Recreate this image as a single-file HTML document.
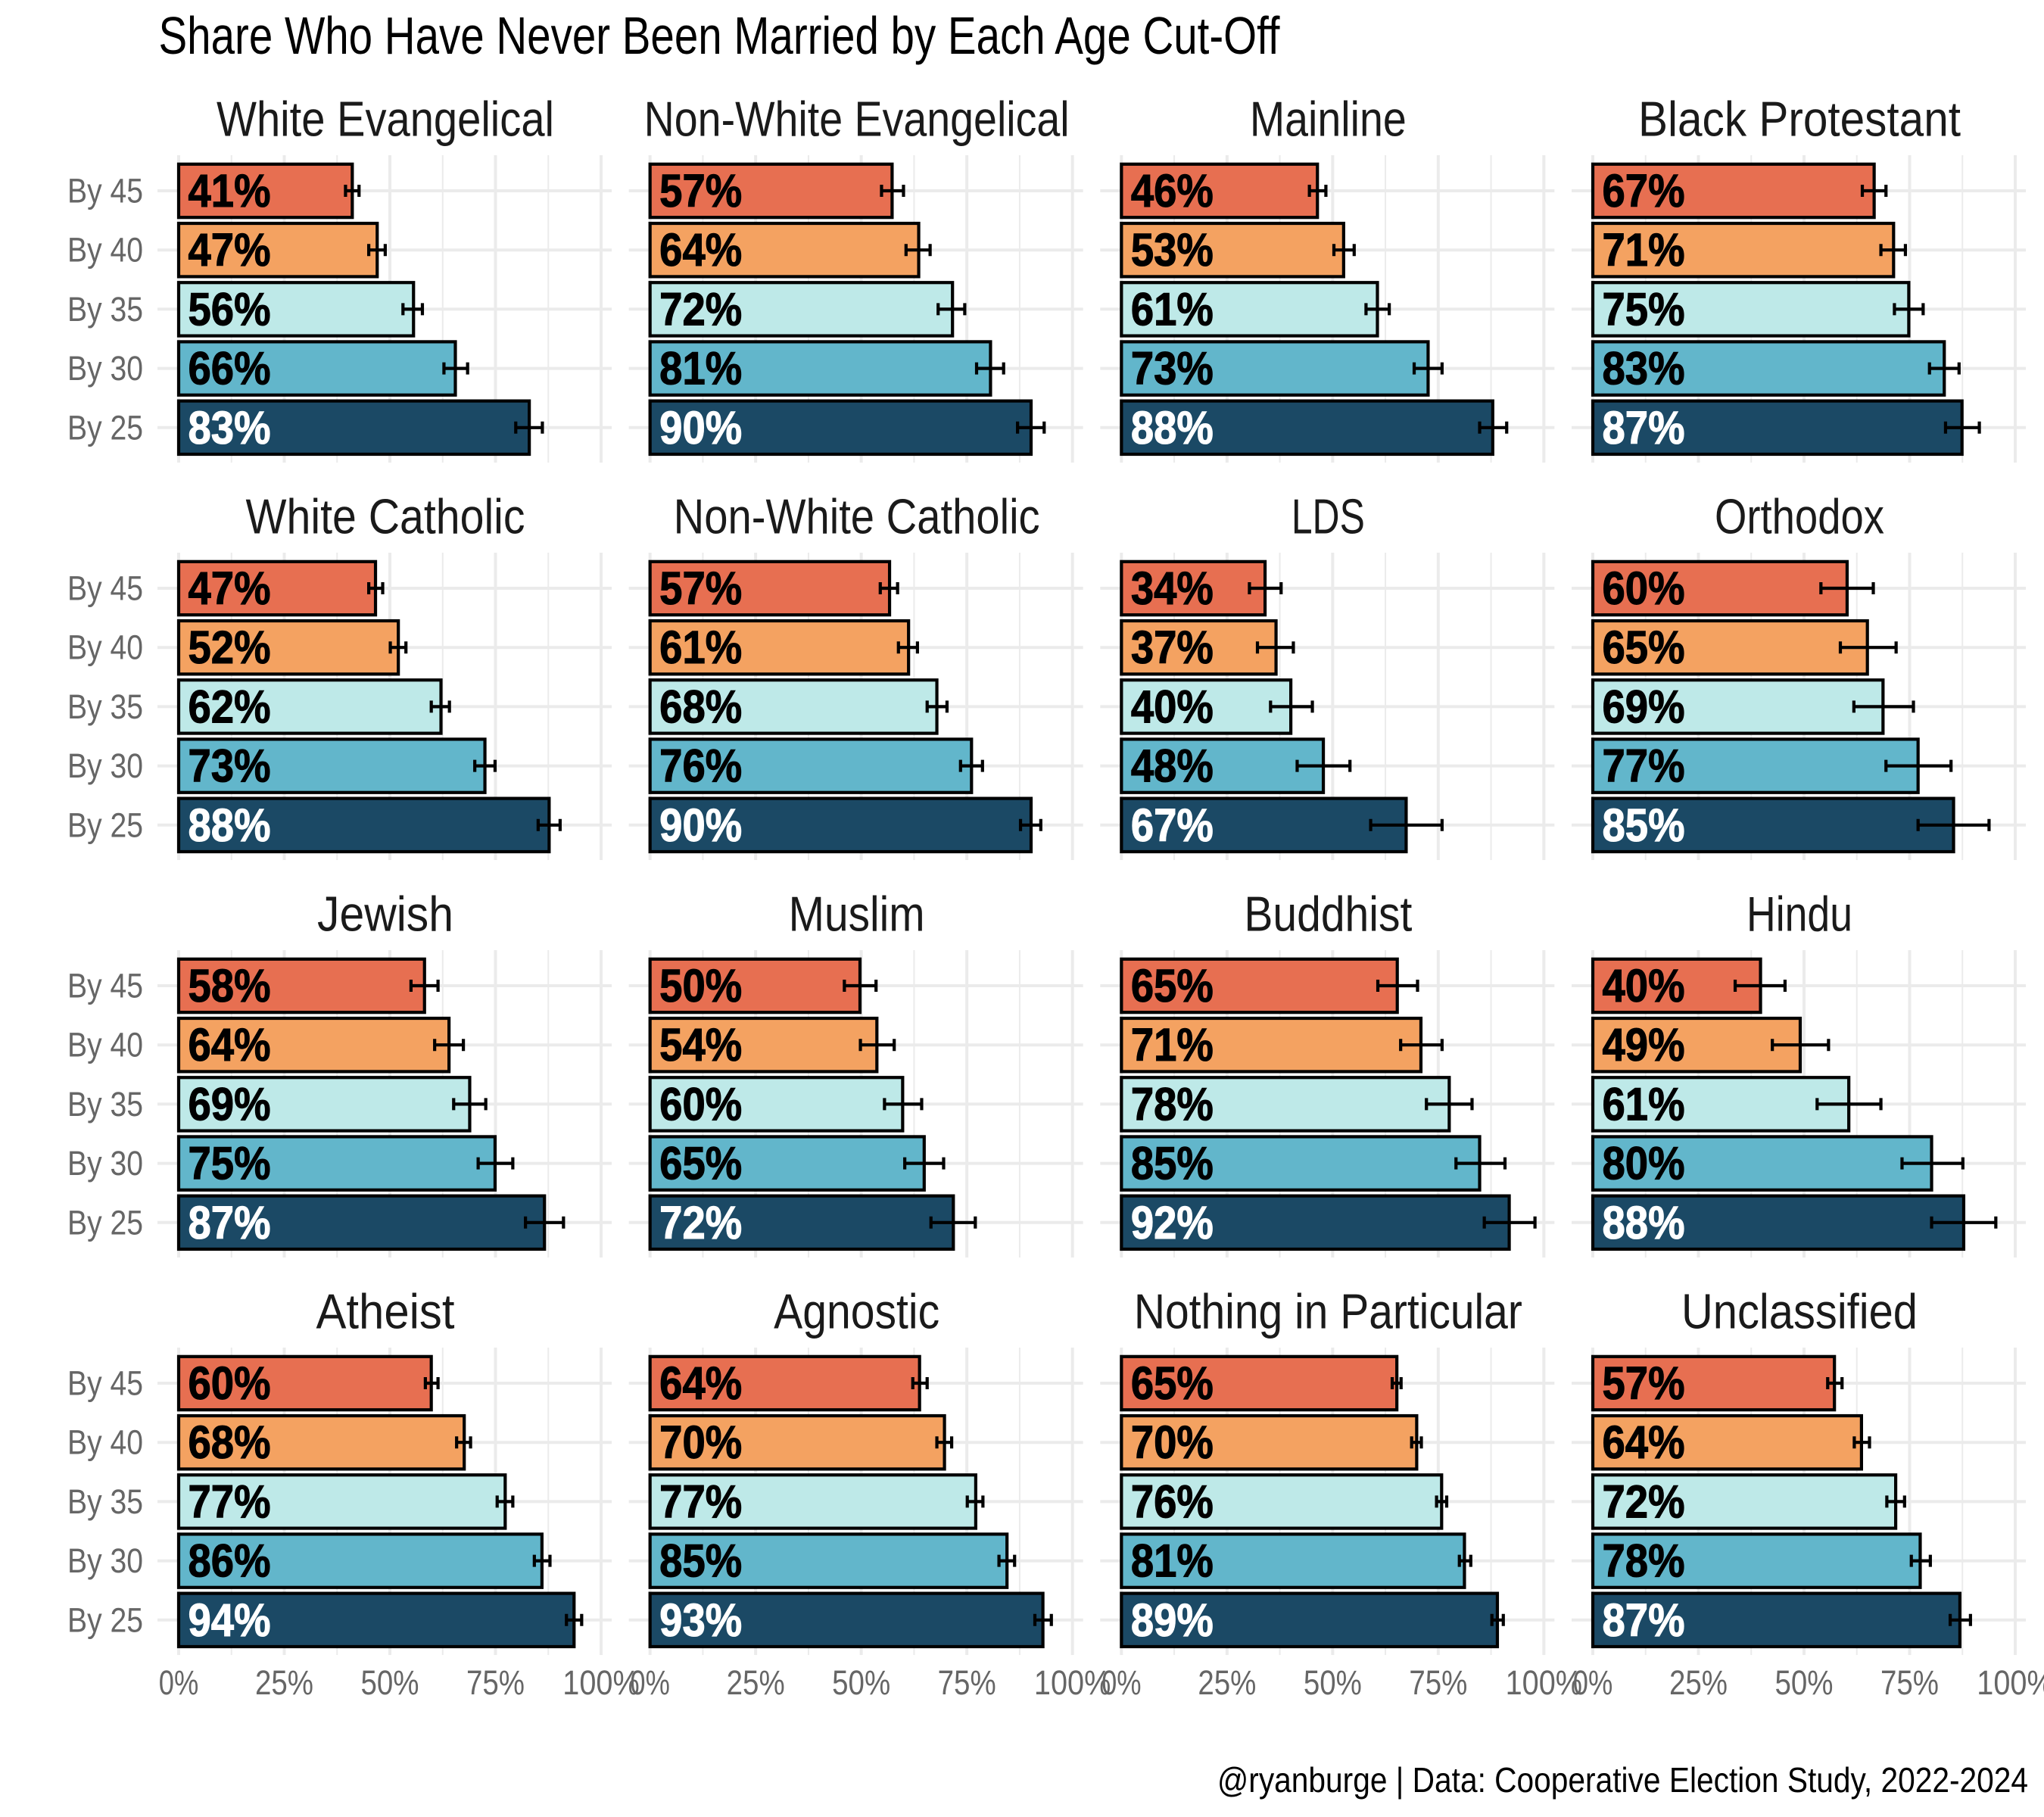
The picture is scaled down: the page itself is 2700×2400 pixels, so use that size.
<!DOCTYPE html>
<html lang="en">
<head>
<meta charset="utf-8">
<title>Share Who Have Never Been Married by Each Age Cut-Off</title>
<style>
html,body{margin:0;padding:0;background:#fff;width:2700px;height:2400px;overflow:hidden}
svg{display:block}
text{font-family:"Liberation Sans",sans-serif}
</style>
</head>
<body>
<svg id="chart" xmlns="http://www.w3.org/2000/svg" width="2700" height="2400" viewBox="0 0 2700 2400">
  <rect width="2700" height="2400" fill="#ffffff"/>
  <text x="209.5" y="71" font-size="70" fill="#000000" textLength="1481" lengthAdjust="spacingAndGlyphs">Share Who Have Never Been Married by Each Age Cut-Off</text>
  <text x="2679" y="2367" text-anchor="end" font-size="46" fill="#000000" textLength="1071" lengthAdjust="spacingAndGlyphs">@ryanburge | Data: Cooperative Election Study, 2022-2024</text>
</svg>
<script>
const panelNames = ['White Evangelical','Non-White Evangelical','Mainline','Black Protestant','White Catholic','Non-White Catholic','LDS','Orthodox','Jewish','Muslim','Buddhist','Hindu','Atheist','Agnostic','Nothing in Particular','Unclassified'];
const ageCategories = ['By 45','By 40','By 35','By 30','By 25'];
const xTickLabels = ['0%','25%','50%','75%','100%'];
const xTickValues = [0,25,50,75,100];
const xMinorTickValues = [12.5,37.5,62.5,87.5];

const shareWhiteEvangelical = [41.1,47.0,55.6,65.5,83.0];
const lowWhiteEvangelical = [39.5,45.0,53.1,62.8,79.8];
const highWhiteEvangelical = [42.7,48.9,57.7,68.4,86.1];
const shareNonWhiteEvangelical = [57.3,63.6,71.6,80.6,90.2];
const lowNonWhiteEvangelical = [54.8,60.6,68.2,77.3,87.0];
const highNonWhiteEvangelical = [60.0,66.3,74.5,83.7,93.3];
const shareMainline = [46.4,52.6,60.6,72.6,87.9];
const lowMainline = [44.5,50.3,57.9,69.3,84.8];
const highMainline = [48.4,55.1,63.4,75.9,91.2];
const shareBlackProtestant = [66.6,71.2,74.8,83.2,87.4];
const lowBlackProtestant = [63.8,68.2,71.4,79.7,83.5];
const highBlackProtestant = [69.4,74.0,78.2,86.7,91.5];
const shareWhiteCatholic = [46.6,52.0,62.1,72.5,87.7];
const lowWhiteCatholic = [45.0,50.1,59.8,70.1,85.1];
const highWhiteCatholic = [48.3,53.8,64.1,74.9,90.3];
const shareNonWhiteCatholic = [56.7,61.2,67.9,76.1,90.2];
const lowNonWhiteCatholic = [54.5,58.8,65.6,73.5,87.7];
const highNonWhiteCatholic = [58.6,63.3,70.3,78.7,92.5];
const shareLds = [34.0,36.6,40.1,47.8,67.4];
const lowLds = [30.3,32.2,35.3,41.6,59.0];
const highLds = [37.8,40.7,45.2,54.1,75.9];
const shareOrthodox = [60.2,65.0,68.7,77.0,85.4];
const lowOrthodox = [54.0,58.6,61.8,69.4,77.0];
const highOrthodox = [66.4,71.8,75.9,84.8,93.8];
const shareJewish = [58.2,64.0,68.9,74.9,86.6];
const lowJewish = [55.0,60.6,65.1,70.9,82.1];
const highJewish = [61.4,67.4,72.7,79.1,91.1];
const shareMuslim = [49.7,53.7,59.8,64.9,71.8];
const lowMuslim = [46.0,49.8,55.5,60.3,66.5];
const highMuslim = [53.5,57.8,64.3,69.5,77.0];
const shareBuddhist = [65.3,70.9,77.6,84.8,91.8];
const lowBuddhist = [60.7,66.1,72.2,79.2,85.9];
const highBuddhist = [70.1,75.9,83.0,90.8,97.9];
const shareHindu = [39.7,49.1,60.6,80.2,87.8];
const lowHindu = [33.7,42.5,53.1,73.2,80.2];
const highHindu = [45.5,55.8,68.2,87.6,95.4];
const shareAtheist = [59.8,67.6,77.3,86.0,93.6];
const lowAtheist = [58.4,65.8,75.4,84.2,91.8];
const highAtheist = [61.4,69.1,79.1,87.9,95.4];
const shareAgnostic = [63.8,69.7,77.1,84.5,93.0];
const lowAgnostic = [62.2,67.9,75.1,82.6,91.1];
const highAgnostic = [65.6,71.4,78.8,86.3,95.0];
const shareNothing = [65.2,69.9,75.8,81.2,89.0];
const lowNothing = [64.1,68.7,74.6,80.0,87.7];
const highNothing = [66.2,71.0,77.0,82.7,90.4];
const shareUnclassified = [57.2,63.6,71.7,77.5,86.9];
const lowUnclassified = [55.6,61.9,69.6,75.4,84.6];
const highUnclassified = [59.0,65.5,73.8,79.9,89.4];

const allShares = [shareWhiteEvangelical,shareNonWhiteEvangelical,shareMainline,shareBlackProtestant,shareWhiteCatholic,shareNonWhiteCatholic,shareLds,shareOrthodox,shareJewish,shareMuslim,shareBuddhist,shareHindu,shareAtheist,shareAgnostic,shareNothing,shareUnclassified];
const allLows = [lowWhiteEvangelical,lowNonWhiteEvangelical,lowMainline,lowBlackProtestant,lowWhiteCatholic,lowNonWhiteCatholic,lowLds,lowOrthodox,lowJewish,lowMuslim,lowBuddhist,lowHindu,lowAtheist,lowAgnostic,lowNothing,lowUnclassified];
const allHighs = [highWhiteEvangelical,highNonWhiteEvangelical,highMainline,highBlackProtestant,highWhiteCatholic,highNonWhiteCatholic,highLds,highOrthodox,highJewish,highMuslim,highBuddhist,highHindu,highAtheist,highAgnostic,highNothing,highUnclassified];

/* layout constants */
const stripTitleFit = {'White Evangelical':446,'Non-White Evangelical':562,'Mainline':207,'Black Protestant':426,'White Catholic':369,'Non-White Catholic':484,'LDS':97,'Orthodox':224,'Jewish':180,'Muslim':180,'Buddhist':222,'Hindu':140,'Atheist':183,'Agnostic':219,'Nothing in Particular':513,'Unclassified':312};
const barFills = ['#E76F51','#F4A261','#BEE9E8','#62B6CB','#1B4965'];
const labelFills = ['#000000','#000000','#000000','#000000','#ffffff'];
const PX_PER_PCT = 5.58, COL_STEP = 622.67, ROW_STEP = 525, BAND = 78.2;
const X0 = 236, TOP = 205, PANEL_H = 406, LEFT_PAD = 28, PANEL_W = 600;

const svg = document.getElementById('chart');
const NS = 'http://www.w3.org/2000/svg';
function make(tag, attrs, parent, text) {
  const el = document.createElementNS(NS, tag);
  for (const k in attrs) el.setAttribute(k, attrs[k]);
  if (text !== undefined) el.textContent = text;
  parent.appendChild(el);
  return el;
}
function xScale(col, v) { return X0 + col * COL_STEP + v * PX_PER_PCT; }
function yScale(row, i) { return TOP + row * ROW_STEP + 47 + i * BAND; }

panelNames.forEach(function (name, p) {
  const col = p % 4, row = Math.floor(p / 4);
  const slug = name.toLowerCase().replace(/[^a-z]+/g, '-');
  const left = xScale(col, 0) - LEFT_PAD, top = TOP + row * ROW_STEP;

  const g = make('g', {}, svg);
  
  

  const strip = make('text', {x: xScale(col, 0) + 273, y: top - 25.5, 'text-anchor': 'middle', 'font-size': 65, fill: '#1a1a1a', textLength: stripTitleFit[name], lengthAdjust: 'spacingAndGlyphs'}, g, name);
  
  

  xMinorTickValues.forEach(function (v) {
    const l = make('line', {x1: xScale(col, v), x2: xScale(col, v), y1: top, y2: top + PANEL_H, stroke: '#EBEBEB', 'stroke-width': 2}, g);
    
    
  });
  xTickValues.forEach(function (v) {
    const l = make('line', {x1: xScale(col, v), x2: xScale(col, v), y1: top, y2: top + PANEL_H, stroke: '#EBEBEB', 'stroke-width': 4}, g);
    
    
  });
  ageCategories.forEach(function (c, i) {
    const l = make('line', {x1: left, x2: left + PANEL_W, y1: yScale(row, i), y2: yScale(row, i), stroke: '#EBEBEB', 'stroke-width': 4}, g);
    
    
  });

  ageCategories.forEach(function (c, i) {
    const y = yScale(row, i), v = allShares[p][i];
    const bar = make('rect', {x: xScale(col, 0), y: y - BAND * 0.45, width: v * PX_PER_PCT, height: BAND * 0.9, fill: barFills[i], stroke: '#000000', 'stroke-width': 4.2}, g);
    
    
  });

  ageCategories.forEach(function (c, i) {
    const y = yScale(row, i), lo = xScale(col, allLows[p][i]), hi = xScale(col, allHighs[p][i]);
    const eb = make('path', {d: 'M' + lo + ' ' + (y - 8) + 'V' + (y + 8) + 'M' + lo + ' ' + y + 'H' + hi + 'M' + hi + ' ' + (y - 8) + 'V' + (y + 8), fill: 'none', stroke: '#000000', 'stroke-width': 4.2}, g);
    
    
  });

  ageCategories.forEach(function (c, i) {
    const y = yScale(row, i), v = allShares[p][i];
    const t = make('text', {x: xScale(col, 0) + 12.5, y: y + 21, 'font-size': 61, 'font-weight': 700, fill: labelFills[i], stroke: labelFills[i], 'stroke-width': 1.1, textLength: 109, lengthAdjust: 'spacingAndGlyphs'}, g, Math.round(v) + '%');
    
    
  });

  if (col === 0) {
    ageCategories.forEach(function (c, i) {
      const t = make('text', {x: 189, y: yScale(row, i) + 15.5, 'text-anchor': 'end', 'font-size': 45, fill: '#666666', textLength: 100, lengthAdjust: 'spacingAndGlyphs'}, g, c);
      
      
    });
  }
  if (row === 3) {
    xTickValues.forEach(function (v, k) {
      const label = xTickLabels[k];
      const t = make('text', {x: xScale(col, v), y: top + PANEL_H + 52, 'text-anchor': 'middle', 'font-size': 45, fill: '#666666', textLength: (label.length - 1) * 24.5 + 28, lengthAdjust: 'spacingAndGlyphs'}, g, label);
      
      
    });
  }
});
</script>
</body>
</html>
